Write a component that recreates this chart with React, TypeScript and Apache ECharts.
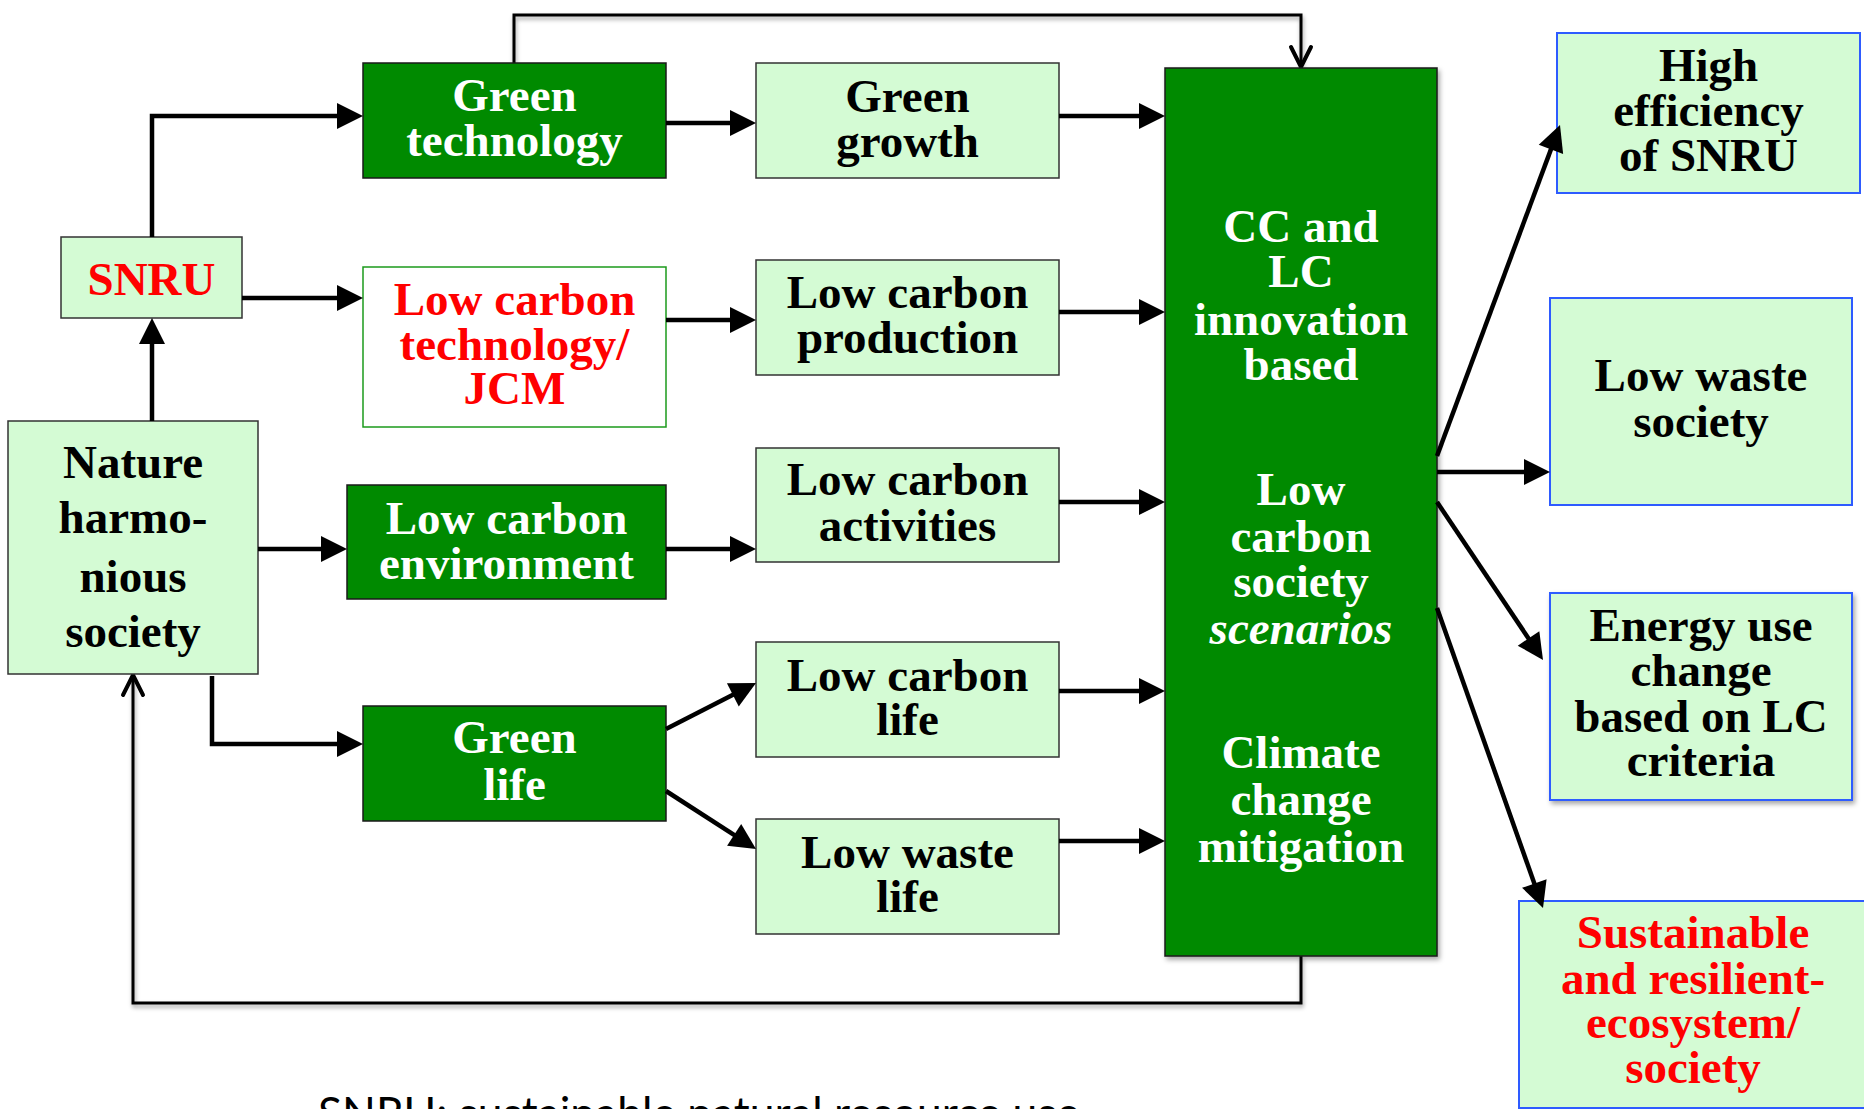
import React, { useEffect, useRef } from 'react';
import * as echarts from 'echarts';

const W = 1864;
const H = 1109;

// ---- texts ----
const GREEN_TECH = ['Green', 'technology'];
const GREEN_GROWTH = ['Green', 'growth'];
const SNRU = ['SNRU'];
const LC_TECH = ['Low carbon', 'technology/', 'JCM'];
const LC_PROD = ['Low carbon', 'production'];
const NATURE = ['Nature', 'harmo-', 'nious', 'society'];
const LC_ENV = ['Low carbon', 'environment'];
const LC_ACT = ['Low carbon', 'activities'];
const LC_LIFE = ['Low carbon', 'life'];
const GREEN_LIFE = ['Green', 'life'];
const LW_LIFE = ['Low waste', 'life'];
const BIG = ['CC and', 'LC', 'innovation', 'based', 'Low', 'carbon', 'society', 'scenarios', 'Climate', 'change', 'mitigation'];
const BIG_ITALIC = ['scenarios'];
const HIGH_EFF = ['High', 'efficiency', 'of SNRU'];
const LW_SOC = ['Low waste', 'society'];
const ENERGY = ['Energy use', 'change', 'based on LC', 'criteria'];
const SUSTAIN = ['Sustainable', 'and resilient-', 'ecosystem/', 'society'];
const FOOTNOTE = 'SNRU: sustainable natural resource use';

// ---- styles ----
const DARK = '#008A00';
const LIGHT = '#D4FBD4';
const RED = '#FF0000';
const BLUE = '#2E5BFF';
const SERIF = '"Liberation Serif", "Times New Roman", serif';
const FS = 47;
const CENTRAL = 16; // baseline -> central offset

type Node = {
  lines: string[];
  rect: [number, number, number, number];
  baselines: number[];
  fill: string;
  stroke: string;
  lw: number;
  color: string;
  shadow?: boolean;
};

const nodes: Node[] = [
  { lines: GREEN_TECH, rect: [363, 63, 303, 115], baselines: [111, 156], fill: DARK, stroke: '#1a1a1a', lw: 1.5, color: '#fff' },
  { lines: GREEN_GROWTH, rect: [756, 63, 303, 115], baselines: [112, 157], fill: LIGHT, stroke: '#333', lw: 1.5, color: '#000' },
  { lines: SNRU, rect: [61, 237, 181, 81], baselines: [295], fill: LIGHT, stroke: '#333', lw: 1.5, color: RED },
  { lines: LC_TECH, rect: [363, 267, 303, 160], baselines: [315, 360, 404], fill: '#fff', stroke: '#1C9A1C', lw: 1.5, color: RED },
  { lines: LC_PROD, rect: [756, 260, 303, 115], baselines: [308, 353], fill: LIGHT, stroke: '#333', lw: 1.5, color: '#000' },
  { lines: NATURE, rect: [8, 421, 250, 253], baselines: [478, 533, 592, 647], fill: LIGHT, stroke: '#333', lw: 1.5, color: '#000' },
  { lines: LC_ENV, rect: [347, 485, 319, 114], baselines: [534, 579], fill: DARK, stroke: '#1a1a1a', lw: 1.5, color: '#fff' },
  { lines: LC_ACT, rect: [756, 448, 303, 114], baselines: [495, 541], fill: LIGHT, stroke: '#333', lw: 1.5, color: '#000' },
  { lines: LC_LIFE, rect: [756, 642, 303, 115], baselines: [691, 735], fill: LIGHT, stroke: '#333', lw: 1.5, color: '#000' },
  { lines: GREEN_LIFE, rect: [363, 706, 303, 115], baselines: [753, 800], fill: DARK, stroke: '#1a1a1a', lw: 1.5, color: '#fff' },
  { lines: LW_LIFE, rect: [756, 819, 303, 115], baselines: [868, 912], fill: LIGHT, stroke: '#333', lw: 1.5, color: '#000' },
  { lines: BIG, rect: [1165, 68, 272, 888], baselines: [242, 287, 335, 380, 505, 552, 597, 644, 768, 815, 862], fill: DARK, stroke: '#1a1a1a', lw: 1.5, color: '#fff', shadow: true },
  { lines: HIGH_EFF, rect: [1557, 33, 303, 160], baselines: [81, 126, 171], fill: LIGHT, stroke: BLUE, lw: 2, color: '#000' },
  { lines: LW_SOC, rect: [1550, 298, 302, 207], baselines: [391, 437], fill: LIGHT, stroke: BLUE, lw: 2, color: '#000' },
  { lines: ENERGY, rect: [1550, 593, 302, 207], baselines: [641, 686, 732, 776], fill: LIGHT, stroke: BLUE, lw: 2, color: '#000', shadow: true },
  { lines: SUSTAIN, rect: [1519, 901, 348, 207], baselines: [948, 994, 1038, 1083], fill: LIGHT, stroke: BLUE, lw: 2, color: RED },
];

type Pt = [number, number];
const solidArrows: Pt[][] = [
  [[152, 237], [152, 116], [363, 116]],
  [[242, 298], [363, 298]],
  [[152, 421], [152, 318]],
  [[258, 549], [347, 549]],
  [[212, 676], [212, 744], [363, 744]],
  [[666, 123], [756, 123]],
  [[666, 320], [756, 320]],
  [[666, 549], [756, 549]],
  [[666, 729], [756, 683]],
  [[666, 791], [756, 849]],
  [[1059, 116], [1165, 116]],
  [[1059, 312], [1165, 312]],
  [[1059, 502], [1165, 502]],
  [[1059, 691], [1165, 691]],
  [[1059, 841], [1165, 841]],
  [[1437, 456], [1560, 125]],
  [[1437, 472], [1550, 472]],
  [[1437, 502], [1543, 660]],
  [[1437, 608], [1543, 908]],
];
const loopArrows: Pt[][] = [
  [[514, 63], [514, 15], [1301, 15], [1301, 67]],
  [[1301, 956], [1301, 1003], [133, 1003], [133, 675]],
];

function solidArrow(pts: Pt[]): any[] {
  const HL = 26, HW = 13;
  const n = pts.length;
  const [x2, y2] = pts[n - 1];
  const [x1, y1] = pts[n - 2];
  const dx = x2 - x1, dy = y2 - y1;
  const L = Math.hypot(dx, dy);
  const ux = dx / L, uy = dy / L;
  const bx = x2 - ux * HL, by = y2 - uy * HL;
  const linePts = pts.slice(0, n - 1).concat([[x2 - ux * (HL - 4), y2 - uy * (HL - 4)]]);
  return [
    {
      type: 'polyline',
      shape: { points: linePts },
      style: { stroke: '#000', lineWidth: 4.5, fill: null, lineJoin: 'miter' },
    },
    {
      type: 'polygon',
      shape: { points: [[x2, y2], [bx - uy * HW, by + ux * HW], [bx + uy * HW, by - ux * HW]] },
      style: { fill: '#000', stroke: null },
    },
  ];
}

function loopArrow(pts: Pt[]): any[] {
  const n = pts.length;
  const [x2, y2] = pts[n - 1];
  const [x1, y1] = pts[n - 2];
  const dx = x2 - x1, dy = y2 - y1;
  const L = Math.hypot(dx, dy);
  const ux = dx / L, uy = dy / L;
  const HL = 20, HW = 10;
  const bx = x2 - ux * HL, by = y2 - uy * HL;
  const shadow = { shadowBlur: 4, shadowColor: 'rgba(0,0,0,0.35)', shadowOffsetX: 1, shadowOffsetY: 3 };
  return [
    {
      type: 'polyline',
      shape: { points: pts },
      style: { stroke: '#000', lineWidth: 3, fill: null, ...shadow },
    },
    {
      type: 'polyline',
      shape: { points: [[bx - uy * HW, by + ux * HW], [x2, y2], [bx + uy * HW, by - ux * HW]] },
      style: { stroke: '#000', lineWidth: 4, fill: null, lineJoin: 'miter', lineCap: 'round' },
    },
  ];
}

function nodeElements(nd: Node): any[] {
  const [x, y, w, h] = nd.rect;
  const els: any[] = [
    {
      type: 'rect',
      shape: { x, y, width: w, height: h },
      style: Object.assign(
        { fill: nd.fill, stroke: nd.stroke, lineWidth: nd.lw },
        nd.shadow ? { shadowBlur: 5, shadowColor: 'rgba(0,0,0,0.35)', shadowOffsetX: 2, shadowOffsetY: 3 } : {}
      ),
    },
  ];
  const cx = x + w / 2;
  nd.lines.forEach((t, i) => {
    els.push({
      type: 'text',
      x: cx,
      y: nd.baselines[i] - CENTRAL,
      style: {
        text: t,
        fill: nd.color,
        fontSize: FS,
        fontWeight: 'bold',
        fontStyle: BIG_ITALIC.indexOf(t) >= 0 && nd.lines === BIG ? 'italic' : 'normal',
        fontFamily: SERIF,
        align: 'center',
        verticalAlign: 'middle',
      },
    });
  });
  return els;
}

export default function App() {
  const ref = useRef<HTMLDivElement>(null);
  useEffect(() => {
    if (!ref.current) return;
    const chart = echarts.init(ref.current, null, { renderer: 'svg', width: W, height: H });

    // footnote font size fitted to measured width
    let fnSize = 38;
    try {
      const c = document.createElement('canvas').getContext('2d');
      if (c) {
        c.font = '40px Lato';
        const mw = c.measureText(FOOTNOTE).width;
        if (mw > 0) fnSize = (40 * 762) / mw;
      }
    } catch (e) {}

    const elements: any[] = [];
    loopArrows.forEach((p) => elements.push(...loopArrow(p)));
    nodes.forEach((nd) => elements.push(...nodeElements(nd)));
    solidArrows.forEach((p) => elements.push(...solidArrow(p)));
    elements.push({
      type: 'text',
      x: 318,
      y: 1097 + 0.33 * fnSize,
      style: {
        text: FOOTNOTE,
        fill: '#000',
        fontSize: fnSize,
        fontFamily: 'Lato, "Open Sans", sans-serif',
        align: 'left',
        verticalAlign: 'middle',
      },
    });

    chart.setOption({
      animation: false,
      backgroundColor: '#fff',
      graphic: { elements },
    });
    return () => chart.dispose();
  }, []);
  return <div ref={ref} style={{ position: 'fixed', left: 0, top: 0, width: W, height: H, overflow: 'hidden' }} />;
}
